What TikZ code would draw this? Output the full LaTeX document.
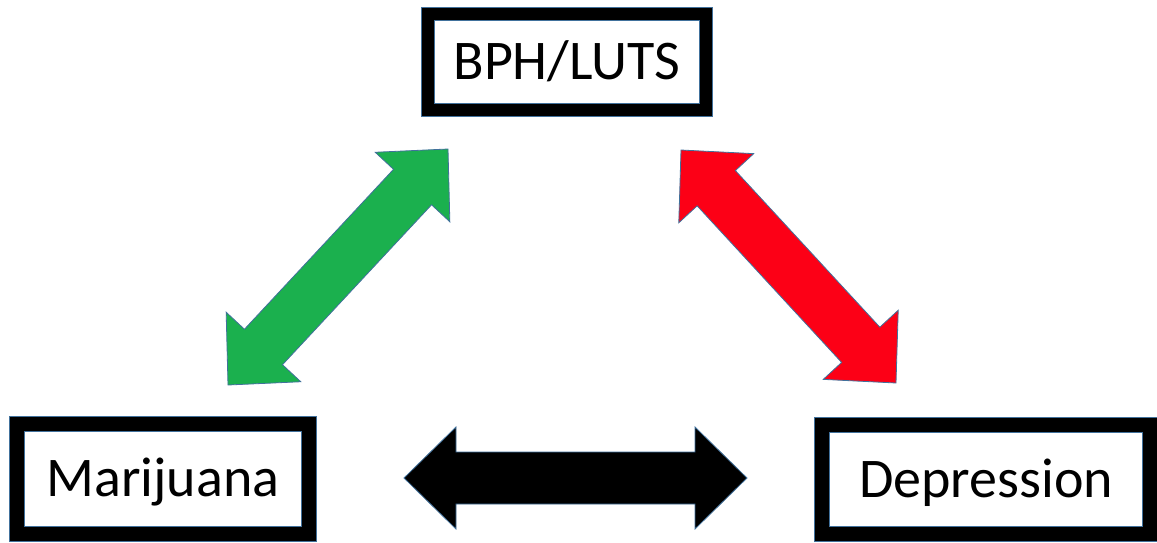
\documentclass[tikz,border=0pt]{standalone}
\usepackage{fontspec}
\setmainfont{Carlito}
\usetikzlibrary{calc}
\definecolor{outl}{RGB}{65,113,156}
\definecolor{pgreen}{RGB}{27,176,78}
\definecolor{pred}{RGB}{252,0,22}
\tikzset{
  box/.style={draw=outl, line width=0.9pt, double=black, fill=white, inner sep=0pt,
    font=\fontsize{56}{62}\selectfont, text height=35pt, text depth=0pt},
  arrowshape/.style={draw=outl, line width=0.8pt, line join=miter}
}
\newcommand\hl{52pt}
\newcommand\hw{51pt}
\newcommand\sw{26pt}
\newcommand\dblarrow[3]{%
  \coordinate (#1h) at ($(#1)!\hl!(#2)$);
  \coordinate (#2h) at ($(#2)!\hl!(#1)$);
  \filldraw[arrowshape,#3] (#1) -- ($(#1h)!\hw!90:(#2)$) -- ($(#1h)!\sw!90:(#2)$)
    -- ($(#2h)!\sw!-90:(#1)$) -- ($(#2h)!\hw!-90:(#1)$) -- (#2)
    -- ($(#2h)!\hw!90:(#1)$) -- ($(#2h)!\sw!90:(#1)$)
    -- ($(#1h)!\sw!-90:(#2)$) -- ($(#1h)!\hw!-90:(#2)$) -- cycle;
}
\begin{document}
\begin{tikzpicture}[x=1pt,y=-1pt]
\useasboundingbox (0,0) rectangle (1157,542);
\clip (0,0) rectangle (1157,542);
\fill[white] (0,0) rectangle (1157,542);
% boxes
\node[box, double distance=12.2pt, minimum width=278pt, minimum height=96pt] (bph) at (567,62) {BPH/LUTS};
\node[box, double distance=14.2pt, minimum width=292pt, minimum height=110pt] (mar) at (163,479) {Marijuana};
\node[box, double distance=14.2pt, minimum width=328pt, minimum height=109pt] (dep) at (986,479.5) {Depression};
% arrow end points
\coordinate (g1) at (228,385);
\coordinate (g2) at (448,149);
\coordinate (r1) at (681,150);
\coordinate (r2) at (896,383);
\coordinate (k1) at (404,478);
\coordinate (k2) at (747,478);
\dblarrow{g1}{g2}{fill=pgreen}
\dblarrow{r1}{r2}{fill=pred}
\dblarrow{k1}{k2}{fill=black}
\end{tikzpicture}
\end{document}
